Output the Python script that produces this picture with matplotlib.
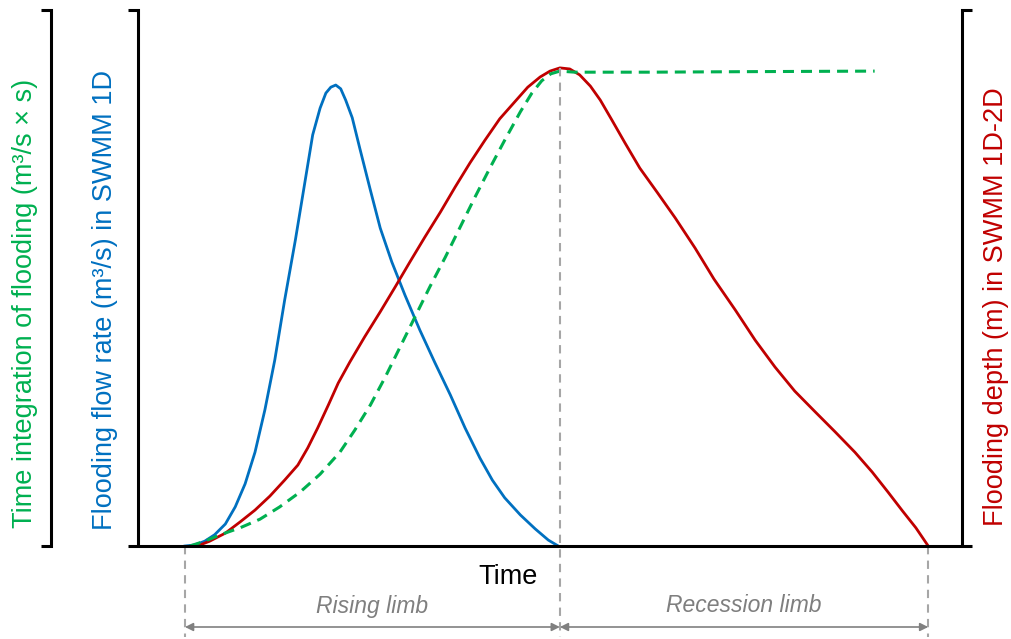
import matplotlib.pyplot as plt
from matplotlib.lines import Line2D

plt.rcParams['font.family'] = ['Liberation Sans', 'DejaVu Sans']

# time axis is 0..100, all three series scaled to 0..100 of the plot height
flow_t = [5.7, 6.9, 8.1, 9.3, 10.6, 11.8, 13.0, 14.2, 15.4, 16.6, 17.8, 19.1, 20.3, 21.2,
          22.1, 22.8, 23.4, 24.0, 24.6, 25.2, 26.0, 26.9, 28.2, 29.4, 30.8, 32.4, 34.2,
          36.0, 37.9, 39.7, 41.5, 43.0, 44.5, 46.4, 48.2, 49.8, 51.0]
flow_q = [0, 0.2, 0.9, 2.1, 4.1, 7.3, 11.6, 17.5, 25.4, 34.7, 45.9, 57.1, 68.3, 76.7,
          81.7, 84.5, 85.6, 86.0, 85.3, 83.2, 79.9, 74.3, 66.4, 59.3, 53.0, 46.8, 40.3,
          34.3, 28.2, 22.0, 16.4, 12.3, 9.0, 5.8, 3.2, 1.1, 0]

depth_t = [7.2, 8.7, 10.6, 12.4, 14.2, 16.0, 17.8, 19.4, 20.6, 21.8, 23.1, 24.3, 25.7,
           27.5, 29.4, 31.2, 33.0, 34.8, 36.7, 38.5, 40.3, 42.1, 43.9, 45.8, 47.3, 48.8,
           50.0, 51.2, 52.4, 53.6, 54.9, 56.1, 57.5, 59.1, 60.9, 63.0, 65.2, 67.6, 69.9,
           72.5, 74.9, 77.3, 79.7, 82.2, 84.6, 87.0, 89.1, 91.0, 92.8, 94.4, 95.9]
depth_h = [0, 0.9, 2.4, 4.5, 6.7, 9.3, 12.3, 15.1, 18.3, 22.0, 26.3, 30.4, 34.3,
           39.0, 43.7, 48.3, 53.0, 57.6, 62.3, 67.0, 71.5, 75.7, 79.7, 83.0, 85.6, 87.5,
           88.6, 89.2, 89.0, 87.9, 85.8, 83.2, 79.5, 75.2, 70.5, 66.0, 61.2, 55.6, 49.8,
           44.0, 38.4, 33.4, 28.9, 25.0, 21.3, 17.5, 13.8, 10.1, 6.5, 3.4, 0]

vol_t = [6.3, 8.1, 10.0, 12.4, 14.8, 17.2, 19.7, 22.1, 24.5, 26.3, 28.2, 30.0, 31.8,
         33.6, 35.4, 37.3, 39.1, 40.9, 42.7, 44.5, 46.4, 47.8, 49.0, 50.1, 51.2, 53.0,
         62.1, 74.3, 89.4]
vol_v = [0, 0.9, 2.1, 3.4, 5.0, 7.3, 10.1, 13.4, 17.5, 21.6, 26.3, 31.5, 37.1,
         42.7, 48.3, 53.9, 59.5, 65.1, 70.5, 75.7, 81.0, 84.5, 86.8, 88.1, 88.6, 88.4,
         88.4, 88.5, 88.6]

t_start, t_peak, t_end = 5.7, 51.2, 95.9
limbs = ['Rising limb', 'Recession limb']

W, H = 1011, 639
fig = plt.figure(figsize=(W / 100, H / 100), dpi=100)
ax = fig.add_axes([138 / W, (H - 546) / H, (962 - 138) / W, (546 - 10) / H])
ax.set_xlim(0, 100)
ax.set_ylim(0, 100)
for s in ax.spines.values():
    s.set_visible(False)
ax.set_xticks([])
ax.set_yticks([])

blue, red, green = '#0070C0', '#C00000', '#00B050'
ax.plot(flow_t, flow_q, color=blue, lw=2.0, solid_joinstyle='round')
ax.plot(depth_t, depth_h, color=red, lw=2.0, solid_joinstyle='round')
ax.plot(vol_t, vol_v, color=green, lw=2.2, ls=(0, (3.6, 2.3)))


def px(x, y):
    return x / W, 1 - y / H


def fline(xs, ys, **kw):
    fx = [x / W for x in xs]
    fy = [1 - y / H for y in ys]
    fig.add_artist(Line2D(fx, fy, transform=fig.transFigure, **kw))


# frame: left/right spines, bottom, plus extra bracket for green axis
k = dict(color='black', lw=2.2, solid_capstyle='butt', solid_joinstyle='miter')
fline([128, 138, 138], [10, 10, 546], **k)
fline([972, 962, 962], [10, 10, 546], **k)
fline([128, 972], [546, 546], **k)
fline([41, 51, 51, 41], [10, 10, 546, 546], **k)

# guide lines and limb arrows
gk = dict(color='#A6A6A6', lw=1.5, ls=(0, (4, 3)))
trans = ax.get_xaxis_transform()
for t in [t_start, t_peak, t_end]:
    top = 89.2 if t == t_peak else 0
    ax.plot([t, t], [top / 100, -0.17], transform=trans, clip_on=False, **gk)

arr_y = -(627 - 546) / (546 - 10)
for (a, b), lab in zip([(t_start, t_peak), (t_peak, t_end)], limbs):
    ax.annotate('', xy=(a, arr_y), xytext=(b, arr_y), xycoords=trans, textcoords=trans,
                arrowprops=dict(arrowstyle='<|-|>', color='#808080', lw=1.2,
                                mutation_scale=12, shrinkA=0, shrinkB=0))
    ax.text((a + b) / 2, -(606 - 546) / (546 - 10), lab, transform=trans,
            ha='center', va='center', fontsize=16.5, style='italic', color='#7F7F7F')

fig.text(*px(508, 577), 'Time', ha='center', va='center', fontsize=19.5)

fig.text(*px(25, 303), 'Time integration of flooding (m³/s × s)', rotation=90,
         ha='center', va='center', fontsize=19.5, color=green)
fig.text(*px(105, 300), 'Flooding flow rate (m³/s) in SWMM 1D', rotation=90,
         ha='center', va='center', fontsize=19.5, color=blue)
fig.text(*px(996, 307), 'Flooding depth (m) in SWMM 1D-2D', rotation=90,
         ha='center', va='center', fontsize=19.5, color=red)

fig.savefig('out.png', dpi=100)
